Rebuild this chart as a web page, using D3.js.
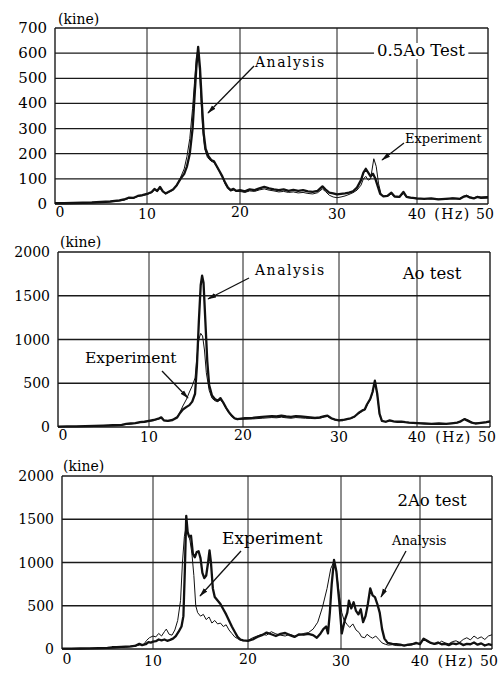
<!DOCTYPE html>
<html>
<head>
<meta charset="utf-8">
<script src="https://cdn.jsdelivr.net/npm/d3@7"></script>
<style>
  body { margin: 0; background: #fff; }
  svg { display: block; }
  text { font-family: "DejaVu Serif", serif; fill: #000; }
</style>
</head>
<body>
<script>
// frequency ticks (Hz) shared by the three panels
var freqTicks = [0, 10, 20, 30, 40, 50];
var ticks05 = [0, 100, 200, 300, 400, 500, 600, 700];
var ticks2000 = [0, 500, 1000, 1500, 2000];

// 0.5Ao test : [Hz, kine]
var ana05 = [[0,3],[1,3],[2,4],[3,5],[4,6],[5,8],[6,10],[7,14],[7.5,18],[8,25],[8.5,24],[9,32],[9.5,35],[10,40],[10.5,48],[10.8,60],[11.1,52],[11.4,68],[11.7,50],[12,42],[12.4,50],[12.8,58],[13.2,75],[13.6,100],[14,120],[14.3,150],[14.6,200],[14.9,300],[15.1,420],[15.3,540],[15.5,625],[15.7,540],[15.9,400],[16.1,280],[16.3,220],[16.6,190],[16.9,175],[17.2,170],[17.5,150],[17.8,130],[18.1,110],[18.4,85],[18.7,65],[19,55],[19.3,60],[19.6,52],[20,55],[20.5,50],[21,58],[21.5,55],[22,62],[22.5,68],[23,62],[23.5,58],[24,55],[24.5,58],[25,52],[25.5,56],[26,52],[26.5,55],[27,50],[27.5,48],[28,52],[28.5,70],[28.8,58],[29.2,45],[29.6,42],[30,38],[30.5,40],[31,42],[31.5,45],[32,50],[32.5,65],[33,95],[33.3,125],[33.6,140],[33.9,125],[34.2,110],[34.5,120],[34.8,100],[35.1,70],[35.4,40],[35.8,30],[36.3,32],[36.8,45],[37.2,30],[37.8,28],[38.3,48],[38.7,28],[39.2,25],[40,22],[41,20],[42,22],[43,18],[44,20],[45,22],[46,20],[46.5,28],[47,32],[47.5,25],[48,22],[48.5,28],[49,24],[50,25]];
var exp05 = [[0,2],[1,3],[2,3],[3,4],[4,5],[5,7],[6,9],[7,12],[7.5,15],[8,22],[8.5,22],[9,30],[9.5,33],[10,38],[10.5,45],[10.8,55],[11.1,50],[11.4,62],[11.7,48],[12,40],[12.4,48],[12.8,55],[13.2,72],[13.6,105],[14,140],[14.3,190],[14.6,260],[14.9,380],[15.1,480],[15.3,580],[15.45,610],[15.6,560],[15.8,420],[16,290],[16.2,220],[16.5,185],[16.9,170],[17.2,165],[17.5,148],[17.8,128],[18.1,105],[18.4,80],[18.7,62],[19,52],[19.3,55],[19.6,50],[20,50],[20.5,46],[21,52],[21.5,50],[22,56],[22.5,60],[23,55],[23.5,52],[24,48],[24.5,50],[25,46],[25.5,48],[26,44],[26.5,46],[27,42],[27.5,40],[28,45],[28.5,60],[28.8,50],[29.2,35],[29.6,28],[30,25],[30.5,28],[31,32],[31.5,38],[32,45],[32.5,55],[33,75],[33.3,100],[33.6,110],[33.9,95],[34.2,100],[34.6,180],[34.9,150],[35.2,80],[35.5,40],[35.8,30],[36.3,30],[36.8,40],[37.2,28],[37.8,26],[38.3,42],[38.7,26],[39.2,24],[40,20],[41,22],[42,20],[43,20],[44,18],[45,24],[46,22],[46.5,30],[47,35],[47.5,28],[48,25],[48.5,30],[49,28],[50,30]];

// Ao test
var ana1 = [[0,5],[1,6],[2,8],[3,10],[4,12],[5,15],[6,20],[7,25],[7.5,35],[8,40],[8.5,45],[9,55],[9.5,60],[10,70],[10.5,80],[11,95],[11.3,110],[11.6,75],[12,70],[12.5,80],[13,110],[13.3,160],[13.6,200],[14,230],[14.3,250],[14.6,290],[14.9,380],[15.1,700],[15.3,1200],[15.5,1620],[15.65,1730],[15.8,1650],[16,1200],[16.2,750],[16.4,480],[16.7,360],[17,320],[17.3,300],[17.6,330],[17.9,280],[18.2,220],[18.5,170],[18.8,130],[19.1,100],[19.4,90],[19.8,95],[20.2,100],[21,105],[22,115],[23,125],[23.5,120],[24,130],[24.5,120],[25,115],[25.5,125],[26,120],[26.5,115],[27,110],[27.5,105],[28,110],[28.5,125],[28.8,130],[29.2,100],[29.6,85],[30,75],[30.5,80],[31,90],[31.5,100],[32,120],[32.5,160],[33,190],[33.3,200],[33.6,260],[34,320],[34.3,400],[34.6,530],[34.9,380],[35.2,150],[35.5,70],[36,60],[36.5,75],[37,65],[37.5,60],[38,62],[38.5,55],[39,50],[39.5,48],[40,45],[41,40],[42,35],[43,40],[44,35],[45,45],[45.5,50],[46,65],[46.5,90],[47,70],[47.5,50],[48,40],[48.5,45],[49,50],[49.5,55],[50,65]];
var exp1 = [[0,4],[1,5],[2,6],[3,8],[4,10],[5,13],[6,18],[7,22],[7.5,30],[8,36],[8.5,42],[9,50],[9.5,58],[10,65],[10.5,75],[11,90],[11.3,105],[11.6,72],[12,68],[12.5,78],[13,115],[13.3,170],[13.6,240],[14,320],[14.3,400],[14.6,470],[14.9,560],[15.1,800],[15.3,1000],[15.5,1070],[15.7,1040],[15.9,880],[16.1,620],[16.4,420],[16.7,330],[17,300],[17.3,290],[17.6,310],[17.9,270],[18.2,210],[18.5,160],[18.8,120],[19.1,95],[19.4,85],[19.8,88],[20.2,90],[21,92],[22,100],[23,108],[23.5,105],[24,112],[24.5,105],[25,100],[25.5,108],[26,104],[26.5,100],[27,98],[27.5,95],[28,100],[28.5,115],[28.8,120],[29.2,95],[29.6,80],[30,72],[30.5,78],[31,85],[31.5,95],[32,115],[32.5,150],[33,180],[33.3,195],[33.6,250],[34,310],[34.3,390],[34.6,510],[34.9,370],[35.2,140],[35.5,65],[36,58],[36.5,70],[37,62],[37.5,58],[38,60],[38.5,52],[39,48],[39.5,46],[40,42],[41,38],[42,36],[43,38],[44,36],[45,40],[45.5,48],[46,70],[46.5,95],[47,80],[47.5,55],[48,45],[48.5,40],[49,48],[49.5,50],[50,60]];

// 2Ao test
var ana2 = [[0,5],[1,5],[2,6],[3,8],[4,10],[5,12],[5.5,20],[6,22],[6.5,25],[7,28],[7.5,30],[8,35],[8.5,60],[8.8,45],[9.2,55],[9.5,80],[9.8,75],[10,85],[10.3,90],[10.6,110],[10.9,100],[11.2,110],[11.5,95],[11.8,105],[12.1,120],[12.4,150],[12.7,200],[13,260],[13.2,380],[13.35,900],[13.5,1540],[13.65,1350],[13.8,1300],[14,1310],[14.2,1100],[14.4,1060],[14.6,1120],[14.8,1130],[15,1050],[15.2,880],[15.4,820],[15.6,850],[15.8,1000],[15.95,1140],[16.1,1000],[16.3,700],[16.5,600],[16.8,560],[17.1,520],[17.4,460],[17.7,400],[18,330],[18.3,260],[18.6,200],[18.9,140],[19.2,110],[19.5,100],[20,95],[20.5,110],[21,140],[21.5,160],[22,190],[22.5,170],[23,150],[23.5,175],[24,185],[24.5,160],[25,140],[25.5,170],[26,165],[26.5,175],[27,160],[27.4,130],[27.8,180],[28.1,230],[28.4,260],[28.6,180],[28.8,420],[29,750],[29.25,1030],[29.5,900],[29.8,560],[30.1,180],[30.5,340],[30.8,420],[31,560],[31.3,470],[31.6,540],[31.9,440],[32.2,400],[32.5,460],[32.8,310],[33.1,380],[33.4,520],[33.7,700],[34,620],[34.3,600],[34.6,520],[34.9,420],[35.2,230],[35.5,120],[35.9,70],[36.5,60],[37,55],[37.5,50],[38,40],[38.5,50],[39,55],[39.5,70],[40,55],[40.5,120],[41,95],[41.5,70],[42,60],[42.5,75],[43,55],[43.5,60],[44,45],[44.5,65],[45,55],[45.5,70],[46,45],[46.5,60],[47,55],[47.5,75],[48,50],[48.5,65],[49,40],[49.5,55],[50,45]];
var exp2 = [[0,3],[1,4],[2,5],[3,6],[4,8],[5,10],[5.5,12],[6,15],[6.5,18],[7,20],[7.5,25],[8,30],[8.5,45],[9,55],[9.3,100],[9.6,130],[10,150],[10.3,140],[10.6,180],[10.9,150],[11.2,200],[11.4,230],[11.7,170],[12,160],[12.3,220],[12.6,330],[12.9,560],[13.1,1000],[13.3,1300],[13.5,1420],[13.7,1330],[13.9,1250],[14.1,1100],[14.3,850],[14.5,500],[14.7,420],[15,380],[15.3,400],[15.6,340],[15.9,370],[16.2,300],[16.5,330],[16.8,290],[17.1,300],[17.4,260],[17.7,280],[18,220],[18.3,180],[18.6,140],[18.9,120],[19.2,100],[19.5,95],[20,100],[20.5,130],[21,150],[21.5,170],[22,160],[22.5,200],[23,175],[23.5,160],[24,150],[24.5,170],[25,150],[25.5,160],[26,180],[26.5,190],[27,230],[27.5,310],[28,480],[28.5,700],[28.9,930],[29.2,1000],[29.5,900],[29.8,640],[30.1,420],[30.4,330],[30.8,280],[31.1,250],[31.5,290],[31.9,220],[32.3,190],[32.6,140],[33,130],[33.3,170],[33.7,140],[34,125],[34.4,150],[34.8,110],[35.2,70],[35.6,55],[36,45],[36.5,50],[37,40],[37.5,38],[38,45],[38.5,40],[39,50],[39.5,60],[40,70],[40.5,110],[41,85],[41.5,70],[42,55],[42.5,60],[43,90],[43.5,70],[44,60],[44.5,85],[45,95],[45.5,75],[46,110],[46.5,130],[47,105],[47.5,150],[48,120],[48.5,140],[49,110],[49.5,150],[50,165]];

var svg = d3.select("body").append("svg")
  .attr("width", 498)
  .attr("height", 673);

// arrow head
svg.append("defs").append("marker")
  .attr("id", "head")
  .attr("viewBox", "0 0 12 8")
  .attr("refX", 11).attr("refY", 4)
  .attr("markerWidth", 9).attr("markerHeight", 6)
  .attr("markerUnits", "userSpaceOnUse")
  .attr("orient", "auto")
  .append("path").attr("d", "M0,0.8L12,4L0,7.2Z").attr("fill", "#111");

// layout of each panel (pixel ranges follow the scanned original's grid)
var panels = [
  { ana: ana05, exp: exp05, ticks: ticks05, xr: [55, 147, 240, 337, 417, 488], yr: [204, 28], tickFont: 15,
    kine: [58, 24], title: "0.5Ao Test", titlePos: [421, 56], titleSize: 16.5, titleBg: true, xLabY: 219,
    notes: [
      { text: "Analysis", x: 255, y: 67, size: 14, ls: 1.5, from: [254, 66], to: [208, 113] },
      { text: "Experiment", x: 405, y: 143, size: 13, ls: 0, from: [404, 143], to: [382, 160] }
    ] },
  { ana: ana1, exp: exp1, ticks: ticks2000, xr: [58, 149, 243, 339, 417, 490], yr: [427, 252], tickFont: 14,
    kine: [60, 247], title: "Ao test", titlePos: [432, 279], titleSize: 16.5, titleBg: false, xLabY: 442,
    notes: [
      { text: "Analysis", x: 255, y: 275, size: 14, ls: 1.5, from: [249, 278], to: [208, 299] },
      { text: "Experiment", x: 85, y: 363, size: 15.5, ls: 0, from: [162, 371], to: [188, 398] }
    ] },
  { ana: ana2, exp: exp2, ticks: ticks2000, xr: [62, 153, 248, 341, 420, 492], yr: [649, 476], tickFont: 14,
    kine: [63, 471], title: "2Ao test", titlePos: [432, 506], titleSize: 16.5, titleBg: false, xLabY: 666,
    notes: [
      { text: "Experiment", x: 222, y: 544, size: 17, ls: 0, from: [241, 551], to: [200, 596] },
      { text: "Analysis", x: 392, y: 545, size: 13, ls: 0, from: [406, 551], to: [381, 597] }
    ] }
];

panels.forEach(function(p) {
  var g = svg.append("g");
  var x = d3.scaleLinear().domain(freqTicks).range(p.xr);
  var y = d3.scaleLinear().domain([0, d3.max(p.ticks)]).range(p.yr);
  var x0 = p.xr[0], x1 = p.xr[p.xr.length - 1];

  // horizontal grid
  g.selectAll(".hg").data(p.ticks).enter().append("line")
    .attr("x1", x0).attr("x2", x1)
    .attr("y1", function(d) { return y(d); }).attr("y2", function(d) { return y(d); })
    .attr("stroke", "#1a1a1a").attr("stroke-width", 1.3);

  // vertical grid and frame
  g.selectAll(".vg").data(freqTicks).enter().append("line")
    .attr("x1", function(d) { return x(d); }).attr("x2", function(d) { return x(d); })
    .attr("y1", y(d3.max(p.ticks))).attr("y2", y(0))
    .attr("stroke", "#1a1a1a")
    .attr("stroke-width", function(d, i) { return (i == 0 || i == freqTicks.length - 1) ? 1.4 : 1; });

  // y tick labels
  g.selectAll(".yl").data(p.ticks).enter().append("text")
    .attr("x", x0 - 8).attr("y", function(d) { return y(d) + 5; })
    .attr("text-anchor", "end")
    .style("font-size", p.tickFont + "px")
    .text(function(d) { return d; });

  // x tick labels
  g.selectAll(".xl").data(freqTicks).enter().append("text")
    .attr("x", function(d) { return d == 0 ? x(d) + 5 : (d == 50 ? x(d) - 3 : x(d)); })
    .attr("y", function(d) { return d == 0 || d == 20 ? p.xLabY - 2 : p.xLabY; })
    .attr("text-anchor", "middle")
    .style("font-size", "14px")
    .text(function(d) { return d; });

  g.append("text")
    .attr("x", (x(40) + x(50)) / 2).attr("y", p.xLabY)
    .attr("text-anchor", "middle")
    .style("font-size", "14px").style("letter-spacing", "1.5px")
    .text("(Hz)");

  g.append("text")
    .attr("x", p.kine[0]).attr("y", p.kine[1])
    .style("font-size", "14px")
    .text("(kine)");

  // curves
  var line = d3.line()
    .x(function(d) { return x(d[0]); })
    .y(function(d) { return y(d[1]); });

  g.append("path").datum(p.exp)
    .attr("d", line).attr("fill", "none")
    .attr("stroke", "#111").attr("stroke-width", 1)
    .attr("stroke-linejoin", "round");

  g.append("path").datum(p.ana)
    .attr("d", line).attr("fill", "none")
    .attr("stroke", "#111").attr("stroke-width", 2.3)
    .attr("stroke-linejoin", "round");

  // panel title
  var t = g.append("text")
    .attr("x", p.titlePos[0]).attr("y", p.titlePos[1])
    .attr("text-anchor", "middle")
    .style("font-size", p.titleSize + "px")
    .text(p.title);
  if (p.titleBg) {
    var b = t.node().getBBox();
    g.insert("rect", function() { return t.node(); })
      .attr("x", b.x - 3).attr("y", b.y + 2)
      .attr("width", b.width + 6).attr("height", b.height - 3)
      .attr("fill", "#fff");
  }

  // annotations
  p.notes.forEach(function(n) {
    g.append("text")
      .attr("x", n.x).attr("y", n.y)
      .style("font-size", n.size + "px")
      .style("letter-spacing", n.ls + "px")
      .text(n.text);
    g.append("line")
      .attr("x1", n.from[0]).attr("y1", n.from[1])
      .attr("x2", n.to[0]).attr("y2", n.to[1])
      .attr("stroke", "#111").attr("stroke-width", 1.3)
      .attr("marker-end", "url(#head)");
  });
});
</script>
</body>
</html>
